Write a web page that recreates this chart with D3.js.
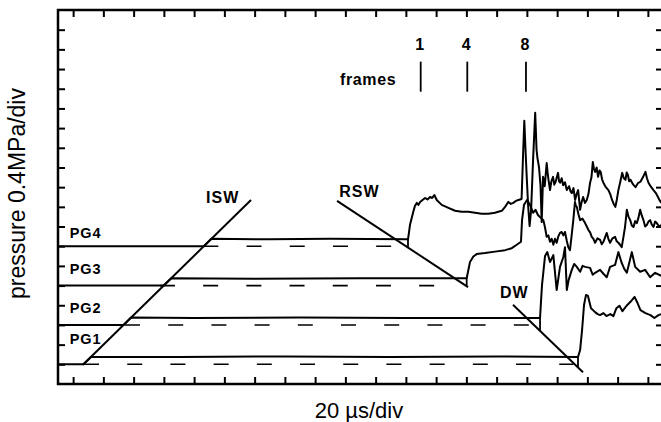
<html>
<head>
  <style>
    body { margin: 0; background: #fff; }
    svg text {
      font-family: "Liberation Sans", Arial, Helvetica, sans-serif;
      fill: #000;
    }
    svg .frame { fill: none; stroke: #000; stroke-width: 2.5px; }
    svg .tick line { stroke: #000; stroke-width: 2px; }
    svg .domain { display: none; }
    svg .trace {
      fill: none;
      stroke: #000;
      stroke-width: 2px;
      stroke-linejoin: round;
    }
    svg .wave { stroke: #000; stroke-width: 2px; }
    svg .base { stroke: #000; stroke-width: 1.6px; stroke-dasharray: 15, 28.2; }
    svg .lab { font-weight: bold; font-size: 16px; letter-spacing: 1px; }
  </style>
</head>

<body>
  <div id="chart"></div>
  <script src="https://d3js.org/d3.v7.min.js"></script>
  <script>
(function () {
  // time in microseconds (20 us/div), pressure in MPa (0.4 MPa/div), traces offset per gauge
  var gauges    = ["PG1", "PG2", "PG3", "PG4"];
  var baselines = [0.4, 1.2, 2.0, 2.8];

  var xTicks = [10, 30, 50, 70, 90, 110, 130, 150, 170, 190,
                210, 230, 250, 270, 290, 310, 330, 350, 370, 390];
  var yTicks = [0.4, 0.8, 1.2, 1.6, 2.0, 2.4, 2.8, 3.2, 3.6, 4.0,
                4.4, 4.8, 5.2, 5.6, 6.0, 6.4, 6.8, 7.2];

  var pg1 = [[0,0.4],[16.8,0.4],[21.8,0.55],[80,0.55],[150,0.56],[220,0.55],[290,0.56],[343.8,0.55],
    [345.2,0.69],[346.5,1.10],[347.8,1.61],[349.1,1.81],[350.4,1.79],[352.4,1.54],[355.1,1.46],
    [356.8,1.42],[358.4,1.40],[360.6,1.44],[362.6,1.38],[365.2,1.42],[367.2,1.38],[369.2,1.54],
    [371.2,1.59],[373.2,1.48],[375.9,1.59],[378.5,1.67],[381.2,1.77],[383.1,1.65],[385.1,1.50],
    [388.4,1.44],[391.7,1.40],[394.3,1.34],[397.0,1.40],[399.0,1.42]];

  var pg2 = [[0,1.2],[43.4,1.2],[48.3,1.35],[90,1.34],[160,1.35],[230,1.34],[318.7,1.34],
    [319.4,1.71],[320.0,2.01],[322.0,2.60],[323.5,2.68],[325.3,2.48],[327.5,2.62],[329.7,1.91],
    [331.9,2.38],[334.1,2.58],[335.2,2.78],[336.4,1.91],[337.6,2.11],[339.7,2.32],[341.3,2.44],
    [343.0,2.38],[345.2,2.28],[346.8,2.40],[348.5,2.38],[351.8,2.36],[353.5,2.22],[355.1,2.26],
    [358.4,2.32],[360.6,2.24],[362.8,2.17],[365.0,2.38],[368.3,2.42],[370.5,2.68],[372.7,2.46],
    [374.4,2.34],[376.1,2.26],[379.4,2.68],[381.6,2.38],[384.9,2.28],[388.2,2.32],[391.5,2.17],
    [394.8,2.26],[398.8,2.2]];

  var pg3 = [[0,2.0],[69.9,2.0],[74.9,2.15],[130,2.14],[200,2.15],[270.2,2.15],
    [272.4,2.48],[274.6,2.59],[276.8,2.64],[282.3,2.66],[288.9,2.69],[295.6,2.72],[300.0,2.76],
    [303.3,2.83],[306.1,2.89],[306.8,3.33],[308.1,3.64],[310.1,3.74],[312.1,3.64],[314.1,3.48],
    [315.7,3.54],[317.4,3.43],[319.2,3.38],[320.9,3.33],[322.0,3.18],[323.1,2.99],[324.2,3.02],
    [325.3,2.89],[326.4,2.95],[327.5,2.83],[328.6,2.95],[329.7,2.87],[330.8,3.00],[331.9,3.07],
    [333.0,3.09],[334.1,3.02],[335.2,3.09],[336.3,2.92],[337.4,2.78],[338.5,2.72],[339.6,3.02],
    [340.7,3.33],[341.8,3.70],[342.4,3.62],[343.0,3.60],[344.1,3.45],[345.2,3.33],[346.8,3.36],
    [348.5,3.27],[349.6,3.20],[350.7,3.13],[351.8,3.08],[352.9,2.99],[354.0,2.95],[355.1,2.87],
    [356.7,2.96],[358.4,2.93],[359.5,2.84],[360.6,2.89],[361.7,2.98],[362.8,3.07],[363.9,2.95],
    [365.0,2.87],[366.6,2.96],[368.3,2.99],[369.4,2.90],[370.5,2.87],[371.6,2.83],[372.7,2.78],
    [373.8,2.98],[374.9,3.19],[376.1,3.54],[377.2,3.40],[378.3,3.33],[379.4,3.22],[380.5,3.19],
    [381.6,3.31],[382.7,3.27],[383.8,3.38],[384.9,3.54],[386.0,3.42],[387.1,3.33],[388.2,3.20],
    [389.3,3.23],[390.4,3.30],[391.5,3.33],[392.6,3.24],[393.7,3.19],[394.8,3.30],[395.9,3.27],
    [397.4,3.20],[398.8,3.23]];

  var pg4 = [[0,2.8],[96.4,2.8],[101.4,2.95],[140,2.94],[180,2.95],[231.4,2.94],
    [232.1,3.09],[232.7,3.23],[234.9,3.50],[236.0,3.62],[237.2,3.68],[238.3,3.64],[239.4,3.70],
    [241.0,3.74],[242.7,3.78],[244.3,3.75],[246.0,3.80],[247.4,3.78],[248.8,3.84],[250.4,3.74],
    [253.7,3.64],[258.1,3.58],[262.5,3.52],[266.9,3.50],[271.3,3.50],[275.7,3.48],[280.1,3.46],
    [284.5,3.46],[288.9,3.48],[293.4,3.52],[295.6,3.60],[297.7,3.70],[299.4,3.66],[301.0,3.68],
    [302.7,3.72],[304.4,3.74],[306.5,3.76],[307.6,4.76],[308.3,5.35],[309.1,4.76],[309.9,4.21],
    [310.8,3.64],[311.8,3.21],[312.8,3.54],[314.1,4.55],[315.5,5.51],[316.4,4.76],[317.0,4.59],
    [318.0,4.41],[319.0,4.04],[319.8,3.29],[320.7,4.21],[321.8,4.02],[323.1,4.49],[323.7,4.30],
    [324.3,4.15],[325.3,3.94],[326.2,4.12],[327.3,4.21],[328.1,4.05],[329.0,4.11],[330.6,4.29],
    [331.3,4.12],[332.0,4.09],[333.0,4.18],[334.0,4.04],[335.2,4.10],[336.4,3.94],[337.9,4.02],
    [338.8,3.92],[339.7,3.88],[340.8,3.98],[341.9,3.74],[342.9,3.86],[343.9,3.94],[345.2,3.54],
    [346.2,3.70],[347.2,3.80],[348.4,3.68],[349.6,3.74],[350.7,3.86],[351.8,4.09],[352.7,4.20],
    [353.6,4.51],[354.3,4.38],[355.1,4.31],[356.1,4.40],[357.1,4.21],[358.0,4.34],[358.8,4.31],
    [359.7,4.16],[360.6,4.09],[362.2,4.00],[363.9,3.94],[365.1,3.86],[366.3,3.74],[367.4,3.66],
    [368.5,3.60],[369.5,3.75],[370.5,3.94],[371.7,4.10],[373.0,4.29],[374.1,4.18],[375.2,4.15],
    [376.0,4.30],[376.8,4.25],[377.6,4.12],[378.5,4.15],[380.1,4.06],[381.8,4.00],[383.4,4.08],
    [385.1,4.11],[386.7,4.20],[388.4,4.31],[389.4,4.18],[390.4,4.09],[392.0,4.01],[393.7,3.94],
    [395.3,3.88],[397.0,3.78],[398.0,3.72],[399.0,3.68]];

  // dashed zero lines, start / end time per gauge
  var dashStart = [17.2, 44.3, 67.4, 96.1];
  var dashEnd   = [340.8, 312.1, 250.6, 221.7];

  // incident, reflected shock and detonation wave lines
  var isw = [[16.5,0.39],[127.6,3.74]];
  var rsw = [[184.5,3.72],[271.1,1.97]];
  var dw  = [[300.8,1.61],[347.1,0.24]];

  // arrival marks: time, trace level, wave line level
  var arrivals = [[343.8,0.55,0.34],[318.7,1.34,1.08],[270.2,2.15,1.99],[231.4,2.94,2.77]];

  // camera frames
  var frameTimes  = [239.8, 270.6, 309.4];
  var frameLabels = ["1", "4", "8"];
  var frameRange  = [5.94, 6.55];

  var svg = d3.select("#chart")
    .append("svg")
      .attr("width", 661)
      .attr("height", 422);

  var x = d3.scaleLinear().domain([0, 400]).range([58, 663]);
  var y = d3.scaleLinear().domain([0, 7.6]).range([384, 10]);

  // ticks on all four sides, pointing in
  svg.append("g")
      .attr("transform", "translate(0,384)")
      .call(d3.axisBottom(x).tickValues(xTicks).tickSize(-7).tickFormat(""));
  svg.append("g")
      .attr("transform", "translate(0,10)")
      .call(d3.axisTop(x).tickValues(xTicks).tickSize(-7).tickFormat(""));
  svg.append("g")
      .attr("transform", "translate(58,0)")
      .call(d3.axisLeft(y).tickValues(yTicks).tickSize(-7).tickFormat(""));
  svg.append("g")
      .attr("transform", "translate(663,0)")
      .call(d3.axisRight(y).tickValues(yTicks).tickSize(-7).tickFormat(""));

  svg.append("rect")
      .classed("frame", true)
      .attr("x", x(0))
      .attr("y", y(7.6))
      .attr("width", x(400) - x(0))
      .attr("height", y(0) - y(7.6));

  var line = d3.line()
    .x(function (d) { return x(d[0]); })
    .y(function (d) { return y(d[1]); });

  // dashed baselines
  baselines.forEach(function (b, i) {
    svg.append("line")
        .classed("base", true)
        .attr("x1", x(dashStart[i]))
        .attr("y1", y(b))
        .attr("x2", x(dashEnd[i]))
        .attr("y2", y(b));
  });

  // pressure traces
  [pg1, pg2, pg3, pg4].forEach(function (tr) {
    svg.append("path")
        .classed("trace", true)
        .attr("d", line(tr));
  });

  [isw, rsw, dw].forEach(function (w) {
    svg.append("path")
        .classed("wave", true)
        .attr("d", line(w));
  });

  arrivals.forEach(function (a) {
    svg.append("line")
        .classed("wave", true)
        .style("stroke-width", "1.8px")
        .attr("x1", x(a[0]))
        .attr("y1", y(a[1]))
        .attr("x2", x(a[0]))
        .attr("y2", y(a[2]));
  });

  // gauge labels
  var gaugeLabelY = [0.81, 1.45, 2.24, 2.96];
  gauges.forEach(function (g, i) {
    svg.append("text")
        .classed("lab", true)
        .style("font-size", "14.5px")
        .style("letter-spacing", "1px")
        .attr("x", x(7.7))
        .attr("y", y(gaugeLabelY[i]))
        .text(g);
  });

  svg.append("text").classed("lab", true)
      .attr("x", x(97.9)).attr("y", y(3.68)).text("ISW");
  svg.append("text").classed("lab", true)
      .attr("x", x(186.0)).attr("y", y(3.81)).text("RSW");
  svg.append("text").classed("lab", true)
      .attr("x", x(292.2)).attr("y", y(1.74)).text("DW");

  // frames
  svg.append("text").classed("lab", true)
      .style("letter-spacing", "0.6px")
      .attr("x", x(186.5)).attr("y", y(6.07)).text("frames");

  frameTimes.forEach(function (t, i) {
    svg.append("line")
        .classed("wave", true)
        .style("stroke-width", "1.8px")
        .attr("x1", x(t))
        .attr("y1", y(frameRange[0]))
        .attr("x2", x(t))
        .attr("y2", y(frameRange[1]));
    svg.append("text")
        .classed("lab", true)
        .style("letter-spacing", "0px")
        .style("text-anchor", "middle")
        .attr("x", x(t) - 1)
        .attr("y", y(6.79))
        .text(frameLabels[i]);
  });

  // axis titles
  svg.append("text")
      .attr("x", 359)
      .attr("y", 418)
      .style("text-anchor", "middle")
      .style("font-size", "22px")
      .text("20 \u00b5s/div");

  svg.append("text")
      .attr("transform", "translate(25,193.5) rotate(-90)")
      .style("text-anchor", "middle")
      .style("font-size", "23px")
      .text("pressure 0.4MPa/div");
})();
  </script>
</body>
</html>
